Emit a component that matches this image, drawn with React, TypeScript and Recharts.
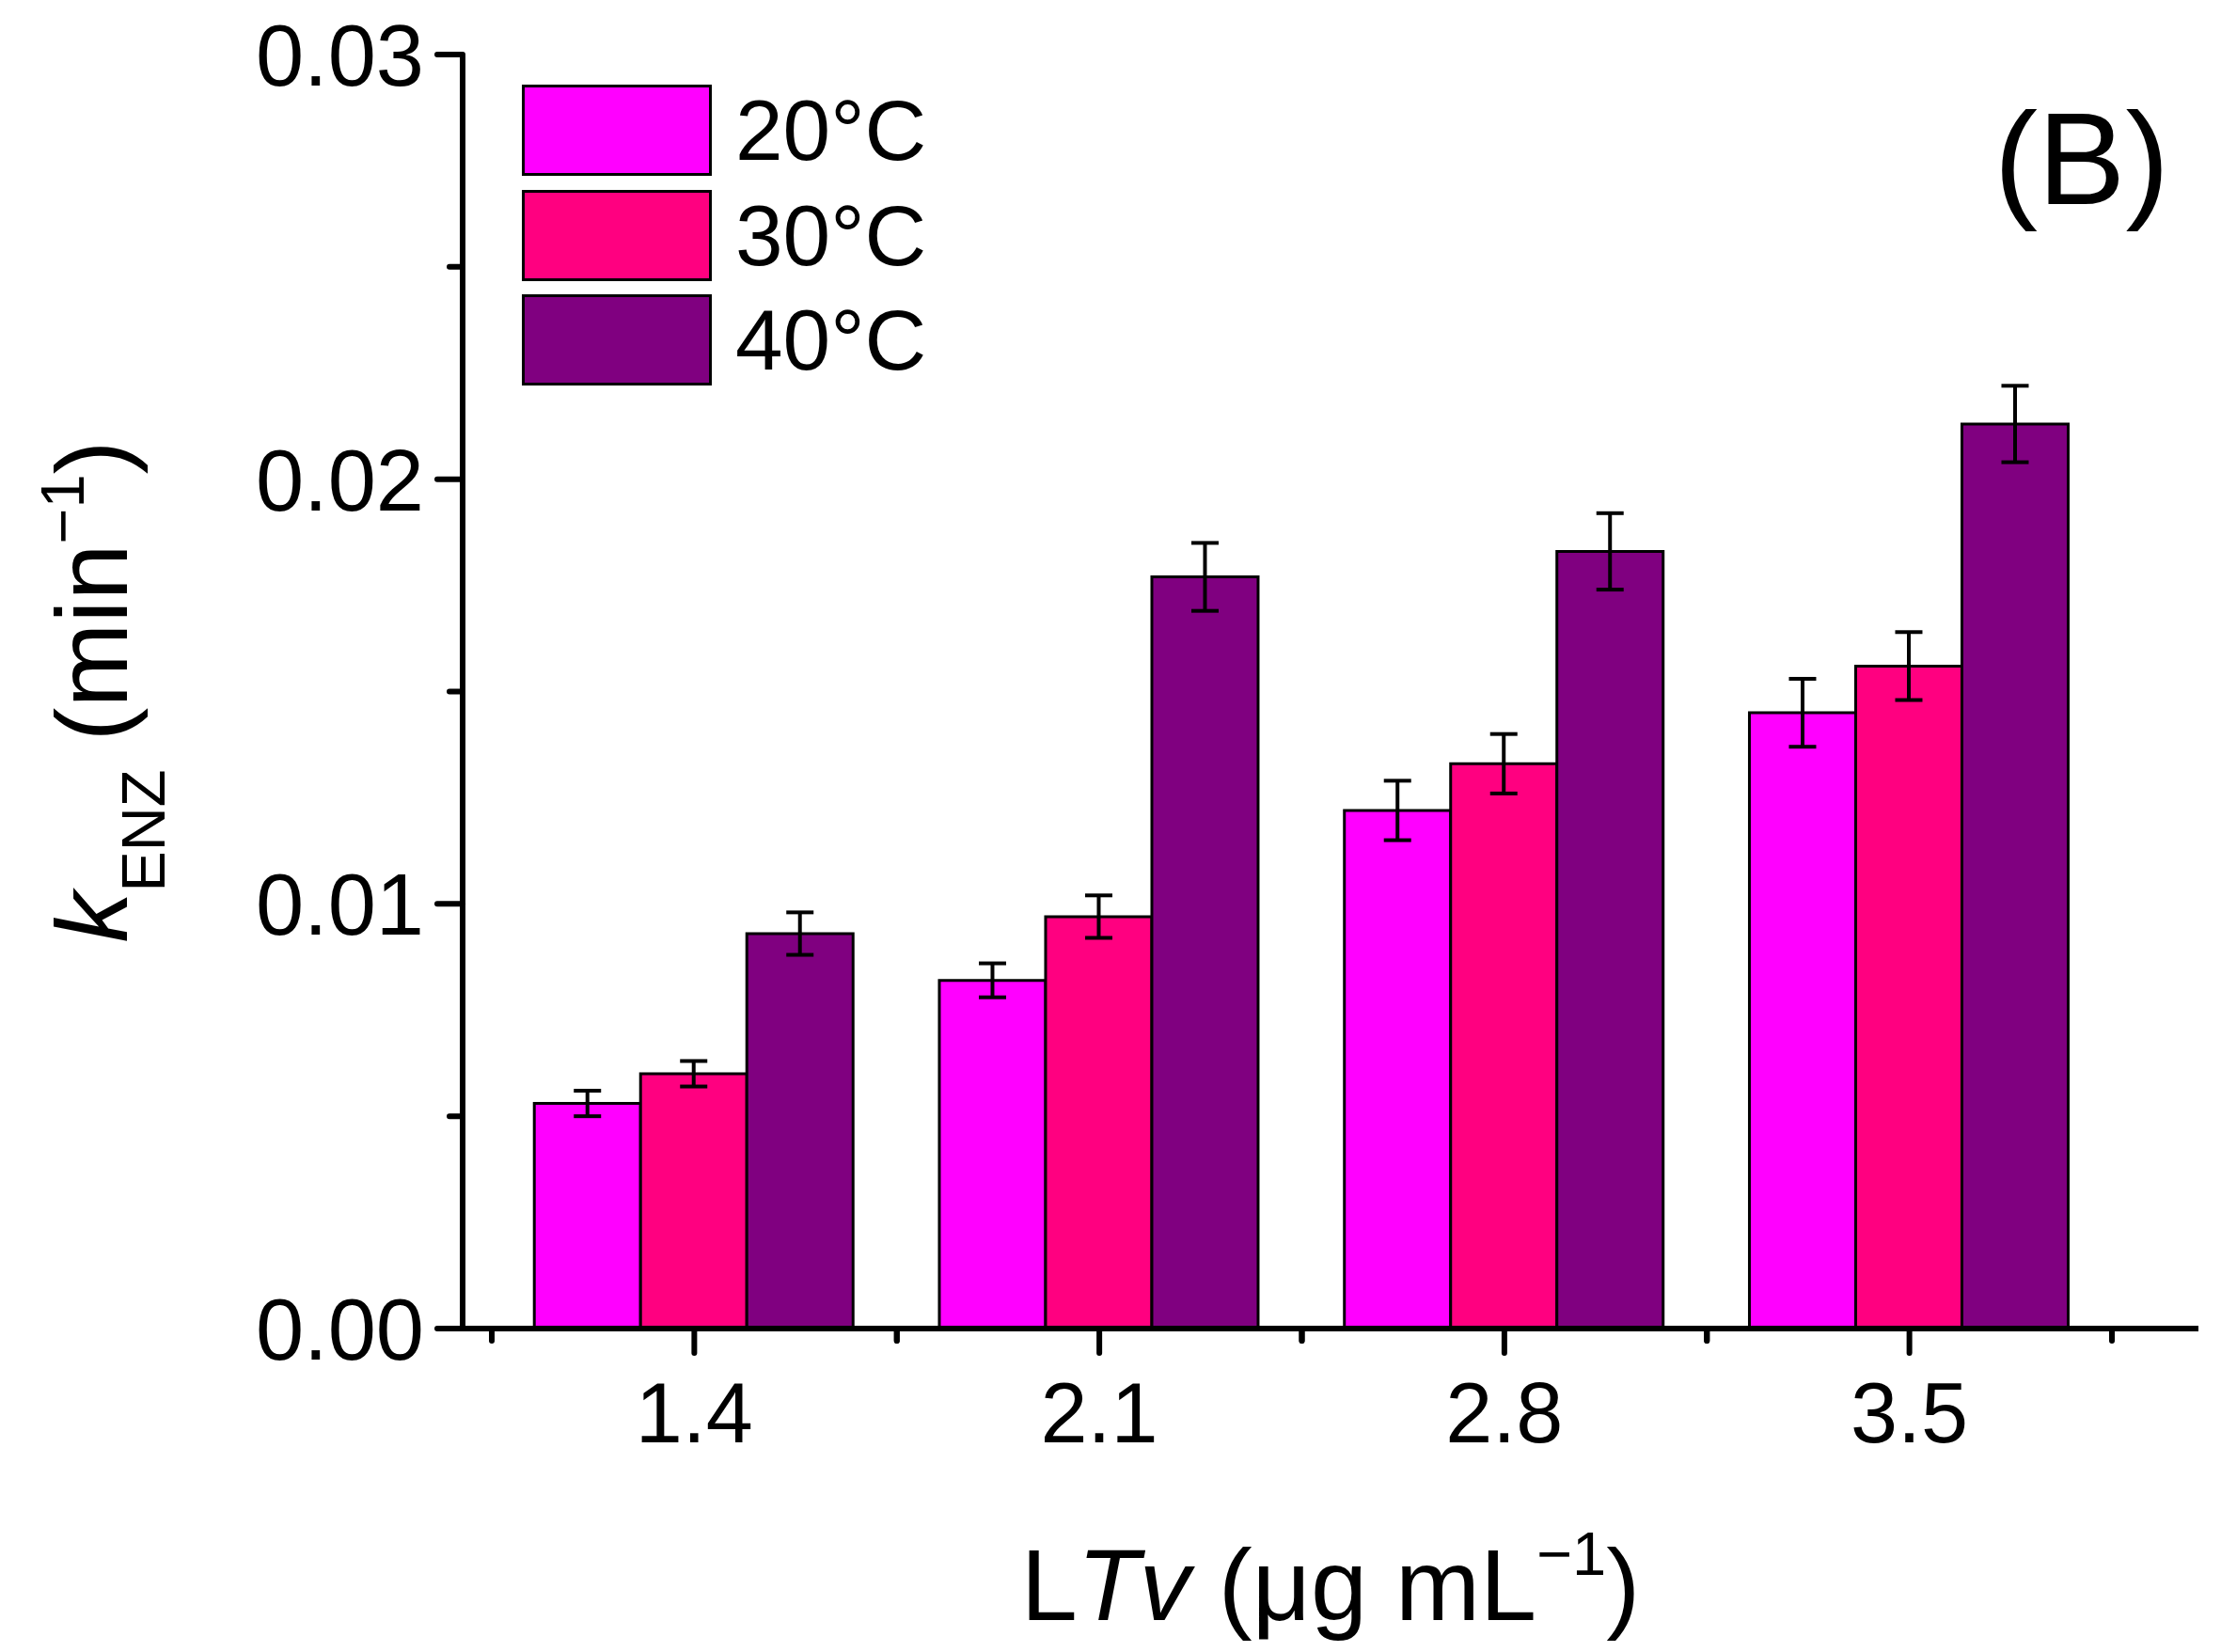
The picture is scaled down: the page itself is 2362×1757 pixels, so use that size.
import React from 'react';
import { BarChart, Bar, XAxis, YAxis, ErrorBar, Legend, Customized } from 'recharts';

// LTv concentrations (µg/mL) and rate constants k_ENZ (min^-1)
const concentrations = ['1.4', '2.1', '2.8', '3.5'];
const k20 = [0.0053, 0.0082, 0.0122, 0.0145];
const k30 = [0.006, 0.0097, 0.0133, 0.0156];
const k40 = [0.0093, 0.0177, 0.0183, 0.0213];
const err20 = [0.0003, 0.0004, 0.0007, 0.0008];
const err30 = [0.0003, 0.0005, 0.0007, 0.0008];
const err40 = [0.0005, 0.0008, 0.0009, 0.0009];

const yTicks = [0, 0.005, 0.01, 0.015, 0.02, 0.025, 0.03];
const seriesNames = ['20°C', '30°C', '40°C'];
const seriesColors = ['#FF00FF', '#FF0080', '#800080'];

const data = concentrations.map((c, i) => ({
  conc: c,
  k20: k20[i],
  k30: k30[i],
  k40: k40[i],
  e20: err20[i],
  e30: err30[i],
  e40: err40[i],
}));

const W = 2362;
const H = 1757;
const FONT = '"Liberation Sans", Arial, sans-serif';
const AXIS_W = 6;

const YTick = (props: any) => {
  const { x, y, payload } = props;
  const v = payload.value as number;
  const major = Math.round(v * 1000) % 10 === 0;
  return (
    <g>
      <line x1={x - (major ? 27 : 14)} x2={x} y1={y} y2={y} stroke="#000" strokeWidth={AXIS_W} strokeLinecap="round" />
      {major && (
        <text x={x - 41} y={y + 33} textAnchor="end" fontSize={92} fontFamily={FONT} fill="#000">
          {v.toFixed(2)}
        </text>
      )}
    </g>
  );
};

const XTick = (props: any) => {
  const { x, y, payload } = props;
  const half = payload.offset || 215;
  return (
    <g>
      <line x1={x} x2={x} y1={y} y2={y + 26} stroke="#000" strokeWidth={AXIS_W} strokeLinecap="round" />
      <line x1={x - half} x2={x - half} y1={y} y2={y + 13} stroke="#000" strokeWidth={AXIS_W} strokeLinecap="round" />
      <line x1={x + half} x2={x + half} y1={y} y2={y + 13} stroke="#000" strokeWidth={AXIS_W} strokeLinecap="round" />
      <text x={x} y={y + 121} textAnchor="middle" fontSize={90} fontFamily={FONT} fill="#000">
        {payload.value}
      </text>
    </g>
  );
};

const YLabel = (props: any) => {
  const { viewBox } = props;
  const x = viewBox.x + 135;
  const cy = viewBox.y + viewBox.height / 2;
  return (
    <text x={x} y={cy} transform={`rotate(-90, ${x}, ${cy})`} textAnchor="middle" fontSize={108} fontFamily={FONT} fill="#000">
      <tspan fontStyle="italic">k</tspan>
      <tspan fontSize={65} dy={40}>ENZ</tspan>
      <tspan dy={-40}> (min</tspan>
      <tspan fontSize={65} dy={-46}>−1</tspan>
      <tspan dy={46}>)</tspan>
    </text>
  );
};

const XLabel = (props: any) => {
  const { viewBox } = props;
  const cx = viewBox.x + viewBox.width / 2;
  const y = viewBox.y + 310;
  return (
    <text x={cx} y={y} textAnchor="middle" fontSize={108} fontFamily={FONT} fill="#000">
      <tspan>L</tspan>
      <tspan fontStyle="italic">Tv</tspan>
      <tspan> (μg mL</tspan>
      <tspan fontSize={65} dy={-48}>−1</tspan>
      <tspan dy={48}>)</tspan>
    </text>
  );
};

const LegendBox = (props: any) => {
  const { payload } = props;
  return (
    <div style={{ fontFamily: FONT }}>
      {(payload || []).map((p: any) => (
        <div key={p.value} style={{ display: 'flex', alignItems: 'center', height: 97, marginBottom: 14.5 }}>
          <div style={{ width: 196, height: 91, background: p.color, border: '3px solid #000' }} />
          <span style={{ marginLeft: 25, fontSize: 91, lineHeight: '97px', color: '#000' }}>{p.value}</span>
        </div>
      ))}
    </div>
  );
};

const PanelTag = () => (
  <text x={W - 55} y={217} textAnchor="end" fontSize={140} fontFamily={FONT} fill="#000">
    (B)
  </text>
);

export default function App() {
  return (
    <div style={{ position: 'absolute', left: 0, top: 0, width: W, height: H, background: '#fff' }}>
      <BarChart
        width={W}
        height={H}
        data={data}
        margin={{ top: 58, right: 24, left: 0, bottom: 0 }}
        barCategoryGap="10.5%"
        barGap={0}
      >
        <XAxis
          dataKey="conc"
          height={344}
          padding={{ left: 31, right: 92 }}
          axisLine={{ stroke: '#000', strokeWidth: AXIS_W }}
          tickLine={false}
          tickSize={0}
          tickMargin={0}
          tick={<XTick />}
          interval={0}
          label={<XLabel />}
        />
        <XAxis
          xAxisId="top"
          dataKey="conc"
          orientation="top"
          height={0}
          padding={{ left: 31, right: 92 }}
          axisLine={{ stroke: '#000', strokeWidth: AXIS_W }}
          tick={false}
          tickLine={false}
        />
        <YAxis
          width={492}
          domain={[0, 0.03]}
          ticks={yTicks}
          interval={0}
          axisLine={{ stroke: '#000', strokeWidth: AXIS_W }}
          tickLine={false}
          tickSize={0}
          tickMargin={0}
          tick={<YTick />}
          label={<YLabel />}
        />
        <YAxis
          yAxisId="right"
          orientation="right"
          width={0}
          domain={[0, 0.03]}
          axisLine={{ stroke: '#000', strokeWidth: AXIS_W }}
          tick={false}
          tickLine={false}
        />
        <Legend
          layout="vertical"
          align="center"
          verticalAlign="middle"
          content={<LegendBox />}
          wrapperStyle={{ left: 555, top: 90, width: 'auto', height: 'auto' }}
        />
        <Bar dataKey="k20" name={seriesNames[0]} fill={seriesColors[0]} stroke="#000" strokeWidth={3} isAnimationActive={false}>
          <ErrorBar dataKey="e20" width={14.5} stroke="#000" strokeWidth={4} direction="y" />
        </Bar>
        <Bar dataKey="k30" name={seriesNames[1]} fill={seriesColors[1]} stroke="#000" strokeWidth={3} isAnimationActive={false}>
          <ErrorBar dataKey="e30" width={14.5} stroke="#000" strokeWidth={4} direction="y" />
        </Bar>
        <Bar dataKey="k40" name={seriesNames[2]} fill={seriesColors[2]} stroke="#000" strokeWidth={3} isAnimationActive={false}>
          <ErrorBar dataKey="e40" width={14.5} stroke="#000" strokeWidth={4} direction="y" />
        </Bar>
        <Customized component={PanelTag} />
      </BarChart>
    </div>
  );
}
